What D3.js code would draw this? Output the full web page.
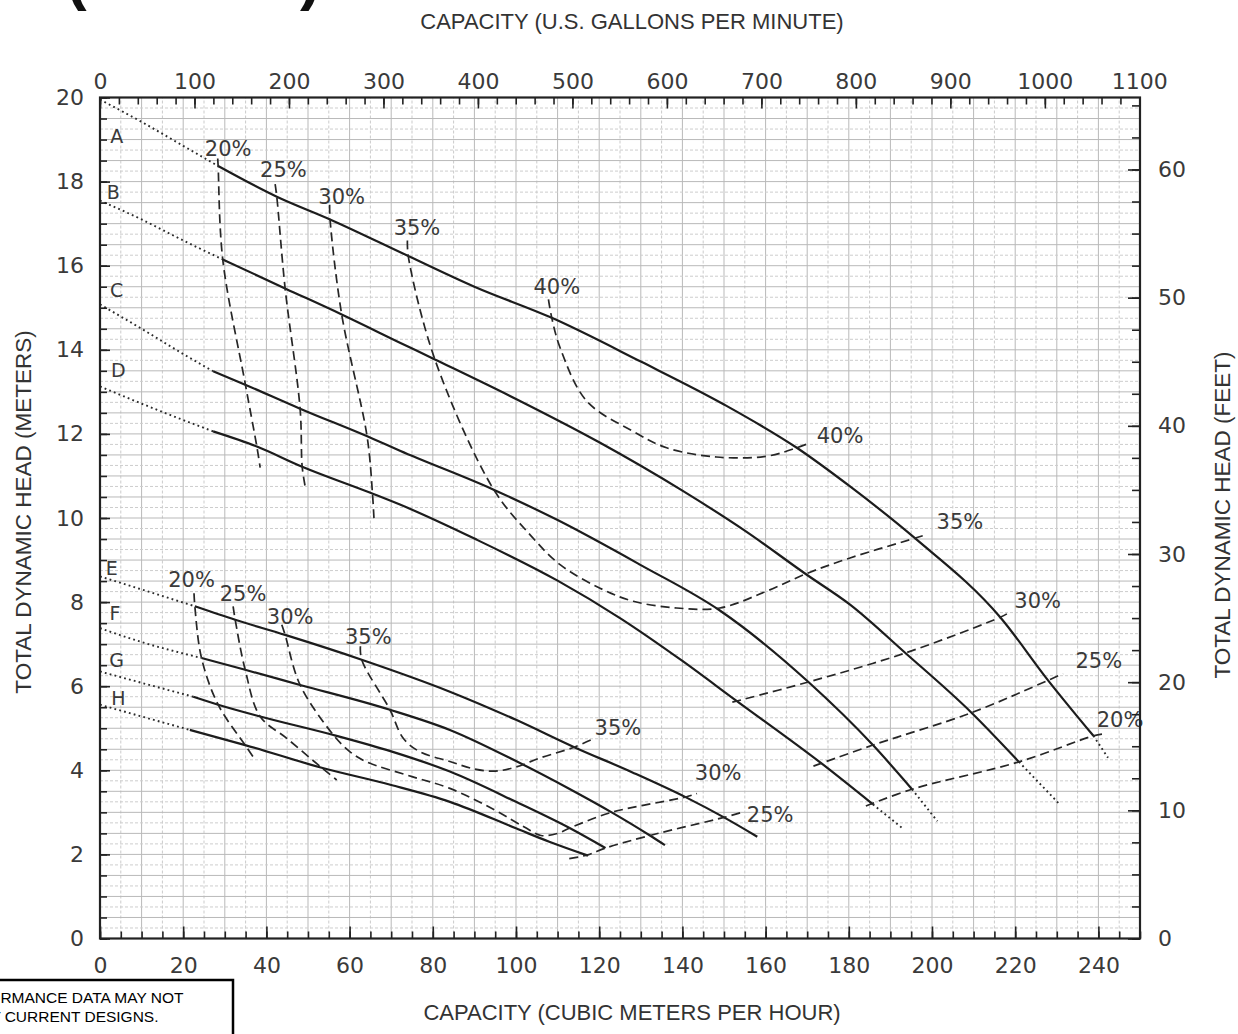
<!DOCTYPE html>
<html><head><meta charset="utf-8">
<script src="https://cdn.jsdelivr.net/npm/d3@7"></script>
<style>body{margin:0;background:#fff}svg{display:block}</style>
</head><body>
<svg id="chart" width="1238" height="1034"></svg>
<script>
// ---------- tick labels ----------
const capacityM3hTicks = [0,20,40,60,80,100,120,140,160,180,200,220,240];
const capacityGpmTicks = [0,100,200,300,400,500,600,700,800,900,1000,1100];
const headMeterTicks   = [0,2,4,6,8,10,12,14,16,18,20];
const headFeetTicks    = [0,10,20,30,40,50,60];

// ---------- impeller head-capacity curves  [m3/h, m] ----------
const curveA_shutoff = [[0,19.95],[10,19.42],[20,18.85],[28.4,18.37]];
const curveA = [[28.4,18.37],[42.5,17.64],[55.3,17.1],[74.1,16.23],[90,15.5],[108.6,14.76],[130,13.72],[150,12.7],[167.5,11.67],[180.3,10.75],[195.9,9.52],[216.4,7.64],[227.9,6.14],[238.8,4.82]];
const curveA_runout = [[238.8,4.82],[242.3,4.3]];

const curveB_shutoff = [[0,17.55],[10,17.1],[20,16.6],[29.5,16.15]];
const curveB = [[29.5,16.15],[44.5,15.46],[58.1,14.84],[72.1,14.17],[80.5,13.77],[100,12.83],[120,11.8],[140,10.65],[155,9.7],[169.9,8.65],[180.3,7.94],[193.6,6.79],[209.5,5.37],[220.9,4.2]];
const curveB_runout = [[220.9,4.2],[230.7,3.19]];

const curveC_shutoff = [[0,15.08],[10,14.5],[20,13.9],[27.2,13.49]];
const curveC = [[27.2,13.49],[34.9,13.17],[48.1,12.6],[65.7,11.88],[72.1,11.6],[94.5,10.68],[110,9.95],[130,8.88],[149,7.8],[170.3,6.1],[185.8,4.6],[195.2,3.55]];
const curveC_runout = [[195.2,3.55],[201.3,2.79]];

const curveD_shutoff = [[0,13.13],[10,12.72],[20,12.33],[27.2,12.06]];
const curveD = [[27.2,12.06],[37.7,11.7],[48.6,11.22],[65,10.6],[72.1,10.32],[90,9.51],[110,8.51],[125,7.62],[140,6.6],[152.6,5.68],[173.6,4.15],[185.8,3.19]];
const curveD_runout = [[185.8,3.19],[192.8,2.63]];

const curveE_shutoff = [[0,8.61],[10,8.3],[22.8,7.9]];
const curveE = [[22.8,7.9],[32.5,7.58],[44.5,7.22],[62.9,6.63],[84.1,5.87],[100,5.2],[114,4.55],[128,3.95],[141,3.35],[150,2.88],[158,2.42]];
const curveF_shutoff = [[0,7.38],[10,7.05],[24.4,6.67]];
const curveF = [[24.4,6.67],[34.9,6.39],[48.1,6.03],[69.7,5.44],[84.1,4.96],[100,4.22],[113,3.55],[123,3.0],[132.2,2.45],[135.8,2.22]];
const curveG_shutoff = [[0,6.35],[10,6.08],[22.4,5.75]];
const curveG = [[22.4,5.75],[28.4,5.56],[38.5,5.28],[56.1,4.84],[70,4.45],[84.1,3.97],[100,3.25],[113,2.62],[121.5,2.15]];
const curveH_shutoff = [[0,5.56],[10,5.28],[21.6,4.96]];
const curveH = [[21.6,4.96],[34.9,4.6],[53.3,4.06],[70,3.65],[84.1,3.25],[100,2.62],[108,2.3],[117.3,1.97]];

// ---------- efficiency (iso) lines ----------
const effUpper20L = [[28.3,18.55],[28.4,18.37],[29.5,16.15],[34.9,13.2],[37.7,11.7],[38.5,11.2]];
const effUpper25L = [[42.1,17.94],[42.5,17.64],[44.5,15.46],[48.1,12.6],[48.6,11.22],[49.3,10.76]];
const effUpper30L = [[55.2,17.45],[55.3,17.1],[58.1,14.84],[64.2,11.94],[65.5,10.58],[65.9,9.9]];
const effUpper35  = [[73.9,16.6],[74.1,16.23],[80.5,13.77],[94.5,10.7],[103.4,9.6],[110.6,8.89],[120.2,8.33],[128.2,8.02],[138.6,7.86],[149,7.86],[160,8.25],[169.9,8.68],[180.3,9.05],[195.9,9.52],[198.4,9.6]];
const effUpper40  = [[107.8,15.2],[108.6,14.76],[110.6,14.05],[117,12.78],[128.2,12.06],[136.2,11.67],[148.2,11.45],[160.3,11.47],[167.5,11.67],[170.7,11.79]];
const effUpper30R = [[152.0,5.62],[170.3,6.1],[193.6,6.79],[216.4,7.64],[218,7.72]];
const effUpper25R = [[171.5,4.1],[185.8,4.6],[209.5,5.37],[227.9,6.14],[231.5,6.3]];
const effUpper20R = [[184.1,3.15],[195.2,3.55],[220.9,4.2],[238.8,4.82],[240.9,4.86]];

const effLower20 = [[22.6,8.21],[22.8,7.9],[24.4,6.67],[28.4,5.56],[34.9,4.6],[37.3,4.25]];
const effLower25 = [[32,7.9],[32.5,7.58],[34.9,6.39],[38.5,5.28],[44.9,4.76],[53.3,4.06],[56.9,3.77]];
const effLower30 = [[43.7,7.46],[44.5,7.22],[48.1,6.03],[56.1,4.84],[60.1,4.44],[64.1,4.2],[75,3.85],[84.1,3.57],[95,3.05],[102,2.65],[106,2.45],[110,2.5],[113,2.63],[123,3.0],[141,3.37],[143.5,3.45]];
const effLower35 = [[62.6,6.95],[62.9,6.63],[69.7,5.44],[72.9,4.76],[76.9,4.44],[84.1,4.21],[90,4.03],[95,3.98],[100,4.08],[106,4.3],[114,4.55],[118,4.72]];
const effLower25R = [[112.8,1.9],[117.3,1.99],[121.5,2.15],[132.2,2.45],[150,2.88],[154.3,3.0]];

// ---------- labels [text, m3/h, m] ----------
const effLabels = [["20%",30.8,18.79],["25%",44.1,18.28],["30%",58.1,17.64],["35%",76.2,16.92],["40%",109.8,15.50],
  ["40%",177.9,11.97],["35%",206.7,9.93],["30%",225.4,8.04],["25%",240.1,6.62],["20%",245.2,5.20],
  ["20%",22.0,8.53],["25%",34.4,8.21],["30%",45.7,7.65],["35%",64.5,7.18],
  ["35%",124.5,5.01],["30%",148.6,3.94],["25%",161.1,2.94]];
const curveLetters = [["A",4.0,19.07],["B",3.2,17.76],["C",4.0,15.42],["D",4.4,13.52],["E",2.8,8.80],["F",3.6,7.73],["G",4.0,6.62],["H",4.4,5.71]];

// ---------- setup ----------
const GPM_PER_M3H = 4.40287, FT_PER_M = 3.28084;
const svg = d3.select("#chart");
const x = d3.scaleLinear().domain([0,250]).range([100,1140]);
const y = d3.scaleLinear().domain([0,20]).range([938.5,97.5]);
const xTop = d3.scaleLinear().domain([0,250*GPM_PER_M3H]).range([100,1140]);
const yRight = d3.scaleLinear().domain([0,20*FT_PER_M]).range([938.5,97.5]);
const TICKFONT = "'DejaVu Sans', Verdana, sans-serif";
const TITLEFONT = "'Liberation Sans', Arial, sans-serif";

// grid
const grid = svg.append("g");
grid.selectAll("line.v").data(d3.range(0,250.01,5)).join("line")
  .attr("x1",d=>x(d)).attr("x2",d=>x(d)).attr("y1",y(0)).attr("y2",y(20))
  .attr("stroke",d=>d%10===0?"#b9b9b9":"#cbcbcb").attr("stroke-width",1)
  .attr("stroke-dasharray",d=>d%10===0?null:"3,2");
grid.selectAll("line.h").data(d3.range(0,20.001,0.25)).join("line")
  .attr("y1",d=>y(d)).attr("y2",d=>y(d)).attr("x1",x(0)).attr("x2",x(250))
  .attr("stroke",d=>Math.abs(d*2-Math.round(d*2))<1e-6?"#b9b9b9":"#cdcdcd").attr("stroke-width",1)
  .attr("stroke-dasharray",d=>Math.abs(d*2-Math.round(d*2))<1e-6?null:"3,2");

// curves
const lineM = d3.line().x(d=>x(d[0])).y(d=>y(d[1])).curve(d3.curveMonotoneX);
const lineC = d3.line().x(d=>x(d[0])).y(d=>y(d[1])).curve(d3.curveCatmullRom.alpha(0.5));
const curves = svg.append("g").attr("fill","none");
[curveA,curveB,curveC,curveD,curveE,curveF,curveG,curveH].forEach(c=>
  curves.append("path").attr("d",lineM(c)).attr("stroke","#1c1c1c").attr("stroke-width",2.2));
[curveA_shutoff,curveB_shutoff,curveC_shutoff,curveD_shutoff,curveE_shutoff,curveF_shutoff,curveG_shutoff,curveH_shutoff,
 curveA_runout,curveB_runout,curveC_runout,curveD_runout].forEach(c=>
  curves.append("path").attr("d",lineM(c)).attr("stroke","#2a2a2a").attr("stroke-width",1.9).attr("stroke-dasharray","1.8,3.2"));
[effUpper20L,effUpper25L,effUpper30L,effUpper35,effUpper40,effUpper30R,effUpper25R,effUpper20R,
 effLower20,effLower25,effLower30,effLower35,effLower25R].forEach(c=>
  curves.append("path").attr("d",lineC(c)).attr("stroke","#262626").attr("stroke-width",1.7).attr("stroke-dasharray","9,5"));

// labels
svg.append("g").selectAll("text").data(effLabels).join("text")
  .attr("x",d=>x(d[1])).attr("y",d=>y(d[2])).attr("dy","0.36em").attr("text-anchor","middle")
  .attr("font-family",TICKFONT).attr("font-size",21).attr("fill","#3a3a3a").text(d=>d[0]);
svg.append("g").selectAll("text").data(curveLetters).join("text")
  .attr("x",d=>x(d[1])).attr("y",d=>y(d[2])).attr("dy","0.36em").attr("text-anchor","middle")
  .attr("font-family",TICKFONT).attr("font-size",19).attr("fill","#3a3a3a").text(d=>d[0]);

// axes
function styleAxis(g){ g.select(".domain").remove(); g.selectAll("line").attr("stroke","#222").attr("stroke-width",1.6);
  g.selectAll("text").attr("font-family",TICKFONT).attr("font-size",22).attr("fill","#3a3a3a"); }
const fmt = d3.format("d");
svg.append("g").attr("transform",`translate(0,${y(0)})`).call(d3.axisBottom(x).tickValues(d3.range(0,251,5)).tickSize(-7).tickFormat("")).call(styleAxis);
svg.append("g").attr("transform",`translate(0,${y(0)})`).call(d3.axisBottom(x).tickValues(capacityM3hTicks).tickSize(-12).tickPadding(19).tickFormat(fmt)).call(styleAxis);
svg.append("g").attr("transform",`translate(0,${y(20)})`).call(d3.axisTop(xTop).tickValues(d3.range(0,1101,20)).tickSize(-7).tickFormat("")).call(styleAxis);
svg.append("g").attr("transform",`translate(0,${y(20)})`).call(d3.axisTop(xTop).tickValues(capacityGpmTicks).tickSize(-11).tickPadding(9).tickFormat(fmt)).call(styleAxis);
svg.append("g").attr("transform",`translate(${x(0)},0)`).call(d3.axisLeft(y).tickValues(d3.range(0,20.01,0.5)).tickSize(-7).tickFormat("")).call(styleAxis);
svg.append("g").attr("transform",`translate(${x(0)},0)`).call(d3.axisLeft(y).tickValues(headMeterTicks).tickSize(-10).tickPadding(16).tickFormat(fmt)).call(styleAxis);
svg.append("g").attr("transform",`translate(${x(250)},0)`).call(d3.axisRight(yRight).tickValues(d3.range(0,65.6,2.5)).tickSize(-8).tickFormat("")).call(styleAxis);
svg.append("g").attr("transform",`translate(${x(250)},0)`).call(d3.axisRight(yRight).tickValues(headFeetTicks).tickSize(-12).tickPadding(18).tickFormat(fmt)).call(styleAxis);

// frame
svg.append("rect").attr("x",x(0)).attr("y",y(20)).attr("width",x(250)-x(0)).attr("height",y(0)-y(20))
  .attr("fill","none").attr("stroke","#222").attr("stroke-width",2.2);

// titles
svg.append("text").attr("x",632).attr("y",29).attr("text-anchor","middle").attr("font-family",TITLEFONT)
  .attr("font-size",22).attr("fill","#333").text("CAPACITY (U.S. GALLONS PER MINUTE)");
svg.append("text").attr("x",632).attr("y",1020).attr("text-anchor","middle").attr("font-family",TITLEFONT)
  .attr("font-size",22).attr("fill","#333").text("CAPACITY (CUBIC METERS PER HOUR)");
svg.append("text").attr("transform","translate(31,512) rotate(-90)").attr("text-anchor","middle").attr("font-family",TITLEFONT)
  .attr("font-size",22.5).attr("fill","#333").text("TOTAL DYNAMIC HEAD (METERS)");
svg.append("text").attr("transform","translate(1230,515) rotate(-90)").attr("text-anchor","middle").attr("font-family",TITLEFONT)
  .attr("font-size",22.5).attr("fill","#333").text("TOTAL DYNAMIC HEAD (FEET)");

// cut-off page title parentheses (only their lower ends show)
svg.append("text").attr("x",66).attr("y",-2).attr("font-family",TITLEFONT).attr("font-weight","bold").attr("font-size",62).attr("fill","#111").text("(");
svg.append("text").attr("x",300).attr("y",-2).attr("font-family",TITLEFONT).attr("font-weight","bold").attr("font-size",62).attr("fill","#111").text(")");

// disclaimer box
svg.append("rect").attr("x",-10).attr("y",980).attr("width",243).attr("height",80).attr("fill","#fff").attr("stroke","#000").attr("stroke-width",2.5);
svg.append("text").attr("x",-53).attr("y",1003).attr("font-family",TITLEFONT).attr("font-size",15.5).attr("fill","#000").text("PERFORMANCE DATA MAY NOT");
svg.append("text").attr("x",-70).attr("y",1022).attr("font-family",TITLEFONT).attr("font-size",15.5).attr("fill","#000").text("REFLECT CURRENT DESIGNS.");
</script>
</body></html>
